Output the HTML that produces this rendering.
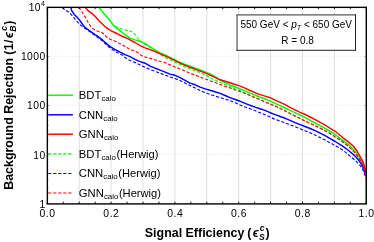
<!DOCTYPE html>
<html><head><meta charset="utf-8"><title>ROC</title>
<style>
html,body{margin:0;padding:0;background:#fff;}
svg{display:block;will-change:transform;font-family:"Liberation Sans",Arial,Helvetica,sans-serif;fill:#000;}
</style></head><body>
<svg width="374" height="242" viewBox="0 0 374 242">
<rect width="374" height="242" fill="#fff"/>

<line x1="79.20" y1="7.4" x2="79.20" y2="203.4" stroke="#aaaaaa" stroke-width="0.8" stroke-dasharray="0.9 1.1"/>
<line x1="111.10" y1="7.4" x2="111.10" y2="203.4" stroke="#aaaaaa" stroke-width="0.8" stroke-dasharray="0.9 1.1"/>
<line x1="143.00" y1="7.4" x2="143.00" y2="203.4" stroke="#aaaaaa" stroke-width="0.8" stroke-dasharray="0.9 1.1"/>
<line x1="174.90" y1="7.4" x2="174.90" y2="203.4" stroke="#aaaaaa" stroke-width="0.8" stroke-dasharray="0.9 1.1"/>
<line x1="206.80" y1="7.4" x2="206.80" y2="203.4" stroke="#aaaaaa" stroke-width="0.8" stroke-dasharray="0.9 1.1"/>
<line x1="238.70" y1="7.4" x2="238.70" y2="203.4" stroke="#aaaaaa" stroke-width="0.8" stroke-dasharray="0.9 1.1"/>
<line x1="270.60" y1="7.4" x2="270.60" y2="203.4" stroke="#aaaaaa" stroke-width="0.8" stroke-dasharray="0.9 1.1"/>
<line x1="302.50" y1="7.4" x2="302.50" y2="203.4" stroke="#aaaaaa" stroke-width="0.8" stroke-dasharray="0.9 1.1"/>
<line x1="334.40" y1="7.4" x2="334.40" y2="203.4" stroke="#aaaaaa" stroke-width="0.8" stroke-dasharray="0.9 1.1"/>
<line x1="47.3" y1="154.50" x2="366.3" y2="154.50" stroke="#e4e4e4" stroke-width="0.7" stroke-dasharray="0.8 0.95"/>
<line x1="47.3" y1="105.35" x2="366.3" y2="105.35" stroke="#e4e4e4" stroke-width="0.7" stroke-dasharray="0.8 0.95"/>
<line x1="47.3" y1="56.40" x2="366.3" y2="56.40" stroke="#e4e4e4" stroke-width="0.7" stroke-dasharray="0.8 0.95"/>
<clipPath id="c"><rect x="47.3" y="7.4" width="319.0" height="196.5"/></clipPath>
<g clip-path="url(#c)" fill="none" stroke-linejoin="round">
<path d="M99.0,7.4 L102.5,11.9 L106.3,16.3 L110.1,20.7 L113.2,25.1 L117.0,28.4 L121.2,31.6 L125.0,34.7 L130.0,38.1 L135.0,39.9 L140.1,41.2 L145.1,43.7 L150.1,46.9 L155.2,50.0 L160.2,52.9 L165.2,55.0 L170.0,57.4 L175.0,59.9 L180.1,62.4 L185.1,64.5 L190.1,66.3 L195.2,68.2 L200.2,70.0 L205.0,71.9 L210.0,74.0 L215.0,76.6 L220.1,80.0 L225.1,82.6 L230.1,84.9 L235.2,87.0 L240.2,88.9 L245.1,90.9 L250.0,93.1 L255.0,95.2 L260.1,97.1 L265.1,99.0 L270.1,100.9 L275.2,103.4 L280.2,105.6 L285.1,108.0 L290.0,110.3 L295.0,112.6 L300.1,115.1 L305.1,117.6 L310.1,120.3 L315.1,123.0 L320.1,125.6 L325.1,128.4 L330.2,131.3 L335.2,134.7 L339.6,138.1 L344.6,141.9 L349.6,145.7 L354.0,150.1 L357.2,153.9 L359.7,158.2 L362.2,162.6 L363.8,166.5 L364.9,170.5 L365.8,176.0 L366.2,180.0 L366.3,185.0 L366.3,203.9" stroke="#00fa00" stroke-width="1.45"/>
<path d="M99.0,7.4 L102.5,11.9 L106.3,16.3 L110.1,20.7 L113.5,25.3 L117.6,27.6 L122.0,29.1 L126.4,30.4 L130.0,31.1 L133.2,32.4 L135.7,35.5 L138.8,39.3 L141.0,41.8 L145.1,44.3 L150.1,47.5 L155.2,50.8 L160.2,54.4 L165.0,57.5 L170.0,59.8 L175.0,62.3 L180.1,64.5 L185.1,67.0 L190.1,68.9 L195.2,70.7 L200.2,72.6 L205.0,75.0 L210.0,77.6 L215.0,80.1 L220.1,82.3 L225.1,84.5 L230.1,86.4 L235.2,88.9 L240.2,90.8 L245.1,93.0 L250.0,95.3 L255.0,97.5 L260.1,99.6 L265.1,101.9 L270.1,103.8 L275.2,106.0 L280.2,108.2 L285.1,110.8 L290.0,113.4 L295.0,115.9 L300.1,118.4 L305.1,120.9 L310.1,123.3 L315.1,125.5 L320.1,128.0 L325.1,130.6 L330.2,133.5 L335.2,136.8 L340.2,140.0 L342.1,141.4 L347.1,145.2 L352.1,149.7 L355.9,153.8 L359.0,158.1 L361.6,162.5 L363.4,166.4 L364.6,170.4 L365.5,175.0" stroke="#00fa00" stroke-width="1.1" stroke-dasharray="3.2 1.8"/>
<path d="M70.8,7.4 L71.7,10.7 L74.2,14.4 L77.4,17.6 L80.5,21.3 L83.0,25.1 L85.3,27.7 L89.3,30.5 L93.3,33.4 L95.2,34.8 L97.7,36.2 L100.1,38.2 L102.8,40.2 L105.1,42.4 L110.1,46.6 L115.2,49.6 L120.2,52.2 L125.1,54.6 L130.0,56.7 L135.0,59.4 L140.1,61.6 L145.1,63.2 L150.1,66.1 L155.2,68.2 L160.2,70.1 L165.2,72.2 L170.0,74.1 L175.0,75.3 L180.1,77.6 L185.1,80.3 L190.1,83.1 L195.2,84.8 L200.2,87.1 L205.2,88.9 L210.0,90.2 L215.0,91.8 L220.1,93.4 L225.1,95.5 L230.1,97.6 L235.2,99.5 L240.2,101.3 L245.2,103.3 L250.0,105.3 L255.0,107.1 L260.1,108.8 L265.1,110.4 L270.1,112.7 L275.2,114.6 L280.2,116.5 L285.2,118.3 L290.0,120.4 L295.0,122.6 L300.1,124.6 L305.0,126.5 L310.1,128.5 L315.1,130.7 L320.1,133.2 L325.1,135.7 L330.2,138.6 L335.2,141.5 L340.2,144.7 L343.0,146.4 L346.3,148.8 L350.4,152.0 L354.6,155.6 L357.9,159.3 L360.4,162.6 L362.0,165.3 L363.3,167.8 L364.3,170.3 L365.1,173.0 L365.7,176.0" stroke="#0000ff" stroke-width="1.45"/>
<path d="M62.3,7.4 L64.8,9.8 L68.6,11.9 L71.7,15.1 L74.9,18.8 L78.0,22.6 L81.1,25.7 L84.3,27.8 L87.4,29.9 L91.2,32.7 L93.7,34.5 L97.6,37.2 L102.6,41.1 L107.6,45.8 L112.6,49.8 L117.7,52.7 L122.7,55.2 L125.0,57.6 L130.0,60.5 L135.0,62.6 L140.1,65.1 L145.1,67.3 L150.1,69.5 L155.2,71.4 L160.2,73.2 L165.2,75.1 L170.0,77.0 L175.0,78.6 L180.1,80.5 L185.1,83.1 L190.1,85.6 L195.2,88.1 L200.2,90.6 L205.2,92.6 L210.0,94.4 L215.0,96.1 L220.1,97.6 L225.1,99.1 L230.1,100.7 L235.2,102.8 L240.2,105.1 L245.2,107.1 L250.0,108.8 L255.0,110.6 L260.1,112.7 L265.1,114.8 L270.1,117.1 L275.2,119.3 L280.2,121.1 L285.2,122.9 L290.0,124.7 L295.0,126.6 L300.1,128.8 L305.0,130.7 L310.1,132.8 L315.1,135.1 L320.1,137.6 L325.1,140.1 L330.2,142.8 L335.2,145.6 L339.2,147.9 L343.0,150.3 L346.3,152.9 L350.4,156.4 L354.6,159.8 L357.7,162.8 L360.0,165.3 L362.1,168.4 L363.7,171.8 L365.0,175.5" stroke="#0000ff" stroke-width="1.1" stroke-dasharray="3.2 1.8"/>
<path d="M85.2,7.4 L88.0,10.7 L92.4,13.8 L95.5,16.8 L98.8,20.4 L102.6,24.2 L106.9,28.2 L111.3,30.8 L115.7,33.0 L119.0,34.6 L122.7,36.5 L127.7,38.7 L130.0,39.9 L135.0,42.5 L140.1,45.6 L145.1,47.9 L150.1,49.6 L155.2,51.6 L160.2,53.8 L165.1,55.8 L170.0,58.1 L175.0,60.7 L180.1,63.2 L185.1,65.3 L190.1,67.3 L195.2,69.1 L200.2,71.1 L205.1,72.9 L210.0,75.1 L215.0,77.3 L220.1,79.8 L225.1,81.3 L230.1,82.8 L235.2,84.5 L240.2,86.1 L245.1,88.2 L250.0,90.5 L255.0,92.7 L260.1,94.6 L265.1,96.1 L270.1,97.7 L275.2,100.2 L280.2,102.4 L285.1,104.7 L290.0,107.3 L295.0,109.8 L300.1,112.3 L305.1,114.5 L310.1,117.0 L315.2,119.7 L320.2,122.3 L325.2,125.1 L330.2,128.3 L335.2,131.3 L338.3,134.0 L340.2,135.3 L343.3,138.1 L348.4,141.9 L353.4,146.3 L357.2,151.3 L359.6,155.5 L361.7,159.3 L363.3,162.6 L364.4,166.0 L365.2,169.3 L365.6,172.6 L365.8,176.0" stroke="#ff0000" stroke-width="1.45"/>
<path d="M78.6,7.4 L81.1,10.0 L83.0,13.8 L85.5,17.6 L87.4,21.3 L89.9,25.1 L92.8,28.8 L96.5,30.8 L100.4,31.9 L103.2,33.4 L105.7,36.2 L110.1,39.3 L115.2,41.2 L120.2,43.7 L125.2,46.5 L130.0,49.4 L135.0,51.1 L137.6,52.5 L142.6,56.3 L147.6,57.7 L152.6,59.0 L157.7,60.7 L162.7,61.9 L165.0,62.6 L170.0,64.8 L175.0,67.0 L180.1,68.9 L185.1,71.1 L190.1,73.2 L195.2,75.1 L200.2,77.0 L205.1,78.9 L210.0,80.7 L215.0,82.6 L220.1,84.5 L225.1,86.4 L230.1,87.9 L235.2,89.9 L240.2,91.6 L245.1,93.6 L250.0,95.6 L255.0,97.7 L260.1,99.8 L265.1,102.1 L270.1,104.0 L275.2,106.1 L280.2,108.4 L285.1,111.0 L290.0,113.6 L295.0,116.1 L300.1,118.6 L305.1,121.1 L310.1,123.4 L315.1,125.7 L320.1,128.2 L325.1,130.7 L330.2,133.6 L335.2,137.0 L340.2,140.1 L342.1,141.5 L347.1,145.3 L352.1,149.8 L355.9,153.9 L359.0,158.2 L361.6,162.6 L363.4,166.5 L364.6,170.5 L365.5,175.0" stroke="#ff0000" stroke-width="1.1" stroke-dasharray="3.2 1.8"/>
</g>
<line x1="48.2" y1="95.20" x2="72.9" y2="95.20" stroke="#00fa00" stroke-width="1.45"/>
<line x1="48.2" y1="114.80" x2="72.9" y2="114.80" stroke="#0000ff" stroke-width="1.45"/>
<line x1="48.2" y1="134.20" x2="72.9" y2="134.20" stroke="#ff0000" stroke-width="1.45"/>
<line x1="48.2" y1="153.90" x2="72.9" y2="153.90" stroke="#00fa00" stroke-width="1.1" stroke-dasharray="3.2 1.8"/>
<line x1="48.2" y1="173.50" x2="72.9" y2="173.50" stroke="#0000ff" stroke-width="1.1" stroke-dasharray="3.2 1.8"/>
<line x1="48.2" y1="193.00" x2="72.9" y2="193.00" stroke="#ff0000" stroke-width="1.1" stroke-dasharray="3.2 1.8"/>
<text x="78.8" y="99.00" font-size="11.3">BDT<tspan font-size="7.9" dy="2.1">calo</tspan><tspan font-size="11.15" dy="-2.1" dx="0.5"></tspan></text>
<text x="78.8" y="118.50" font-size="11.3">CNN<tspan font-size="7.9" dy="2.1">calo</tspan><tspan font-size="11.15" dy="-2.1" dx="0.5"></tspan></text>
<text x="78.8" y="138.00" font-size="11.3">GNN<tspan font-size="7.9" dy="2.1">calo</tspan><tspan font-size="11.15" dy="-2.1" dx="0.5"></tspan></text>
<text x="78.8" y="157.50" font-size="11.3">BDT<tspan font-size="7.9" dy="2.1">calo</tspan><tspan font-size="11.15" dy="-2.1" dx="0.5">(Herwig)</tspan></text>
<text x="78.8" y="177.00" font-size="11.3">CNN<tspan font-size="7.9" dy="2.1">calo</tspan><tspan font-size="11.15" dy="-2.1" dx="0.5">(Herwig)</tspan></text>
<text x="78.8" y="196.50" font-size="11.3">GNN<tspan font-size="7.9" dy="2.1">calo</tspan><tspan font-size="11.15" dy="-2.1" dx="0.5">(Herwig)</tspan></text>
<rect x="47.35" y="7.35" width="318.95" height="196.55" fill="none" stroke="#000" stroke-width="1.4"/>
<line x1="47.30" y1="203.9" x2="47.30" y2="201.7" stroke="#000" stroke-width="0.9"/>
<line x1="47.30" y1="7.35" x2="47.30" y2="9.1" stroke="#000" stroke-width="0.9"/>
<line x1="63.25" y1="203.9" x2="63.25" y2="201.7" stroke="#000" stroke-width="0.9"/>
<line x1="63.25" y1="7.35" x2="63.25" y2="9.1" stroke="#000" stroke-width="0.9"/>
<line x1="79.20" y1="203.9" x2="79.20" y2="201.7" stroke="#000" stroke-width="0.9"/>
<line x1="79.20" y1="7.35" x2="79.20" y2="9.1" stroke="#000" stroke-width="0.9"/>
<line x1="95.15" y1="203.9" x2="95.15" y2="201.7" stroke="#000" stroke-width="0.9"/>
<line x1="95.15" y1="7.35" x2="95.15" y2="9.1" stroke="#000" stroke-width="0.9"/>
<line x1="111.10" y1="203.9" x2="111.10" y2="201.7" stroke="#000" stroke-width="0.9"/>
<line x1="111.10" y1="7.35" x2="111.10" y2="9.1" stroke="#000" stroke-width="0.9"/>
<line x1="127.05" y1="203.9" x2="127.05" y2="201.7" stroke="#000" stroke-width="0.9"/>
<line x1="127.05" y1="7.35" x2="127.05" y2="9.1" stroke="#000" stroke-width="0.9"/>
<line x1="143.00" y1="203.9" x2="143.00" y2="201.7" stroke="#000" stroke-width="0.9"/>
<line x1="143.00" y1="7.35" x2="143.00" y2="9.1" stroke="#000" stroke-width="0.9"/>
<line x1="158.95" y1="203.9" x2="158.95" y2="201.7" stroke="#000" stroke-width="0.9"/>
<line x1="158.95" y1="7.35" x2="158.95" y2="9.1" stroke="#000" stroke-width="0.9"/>
<line x1="174.90" y1="203.9" x2="174.90" y2="201.7" stroke="#000" stroke-width="0.9"/>
<line x1="174.90" y1="7.35" x2="174.90" y2="9.1" stroke="#000" stroke-width="0.9"/>
<line x1="190.85" y1="203.9" x2="190.85" y2="201.7" stroke="#000" stroke-width="0.9"/>
<line x1="190.85" y1="7.35" x2="190.85" y2="9.1" stroke="#000" stroke-width="0.9"/>
<line x1="206.80" y1="203.9" x2="206.80" y2="201.7" stroke="#000" stroke-width="0.9"/>
<line x1="206.80" y1="7.35" x2="206.80" y2="9.1" stroke="#000" stroke-width="0.9"/>
<line x1="222.75" y1="203.9" x2="222.75" y2="201.7" stroke="#000" stroke-width="0.9"/>
<line x1="222.75" y1="7.35" x2="222.75" y2="9.1" stroke="#000" stroke-width="0.9"/>
<line x1="238.70" y1="203.9" x2="238.70" y2="201.7" stroke="#000" stroke-width="0.9"/>
<line x1="238.70" y1="7.35" x2="238.70" y2="9.1" stroke="#000" stroke-width="0.9"/>
<line x1="254.65" y1="203.9" x2="254.65" y2="201.7" stroke="#000" stroke-width="0.9"/>
<line x1="254.65" y1="7.35" x2="254.65" y2="9.1" stroke="#000" stroke-width="0.9"/>
<line x1="270.60" y1="203.9" x2="270.60" y2="201.7" stroke="#000" stroke-width="0.9"/>
<line x1="270.60" y1="7.35" x2="270.60" y2="9.1" stroke="#000" stroke-width="0.9"/>
<line x1="286.55" y1="203.9" x2="286.55" y2="201.7" stroke="#000" stroke-width="0.9"/>
<line x1="286.55" y1="7.35" x2="286.55" y2="9.1" stroke="#000" stroke-width="0.9"/>
<line x1="302.50" y1="203.9" x2="302.50" y2="201.7" stroke="#000" stroke-width="0.9"/>
<line x1="302.50" y1="7.35" x2="302.50" y2="9.1" stroke="#000" stroke-width="0.9"/>
<line x1="318.45" y1="203.9" x2="318.45" y2="201.7" stroke="#000" stroke-width="0.9"/>
<line x1="318.45" y1="7.35" x2="318.45" y2="9.1" stroke="#000" stroke-width="0.9"/>
<line x1="334.40" y1="203.9" x2="334.40" y2="201.7" stroke="#000" stroke-width="0.9"/>
<line x1="334.40" y1="7.35" x2="334.40" y2="9.1" stroke="#000" stroke-width="0.9"/>
<line x1="350.35" y1="203.9" x2="350.35" y2="201.7" stroke="#000" stroke-width="0.9"/>
<line x1="350.35" y1="7.35" x2="350.35" y2="9.1" stroke="#000" stroke-width="0.9"/>
<line x1="366.30" y1="203.9" x2="366.30" y2="201.7" stroke="#000" stroke-width="0.9"/>
<line x1="366.30" y1="7.35" x2="366.30" y2="9.1" stroke="#000" stroke-width="0.9"/>
<line x1="48.0" y1="188.83" x2="48.8" y2="188.83" stroke="#999" stroke-width="0.5"/>
<line x1="365.6" y1="188.83" x2="364.8" y2="188.83" stroke="#999" stroke-width="0.5"/>
<line x1="48.0" y1="180.20" x2="48.8" y2="180.20" stroke="#999" stroke-width="0.5"/>
<line x1="365.6" y1="180.20" x2="364.8" y2="180.20" stroke="#999" stroke-width="0.5"/>
<line x1="48.0" y1="174.07" x2="48.8" y2="174.07" stroke="#999" stroke-width="0.5"/>
<line x1="365.6" y1="174.07" x2="364.8" y2="174.07" stroke="#999" stroke-width="0.5"/>
<line x1="48.0" y1="169.32" x2="48.8" y2="169.32" stroke="#999" stroke-width="0.5"/>
<line x1="365.6" y1="169.32" x2="364.8" y2="169.32" stroke="#999" stroke-width="0.5"/>
<line x1="48.0" y1="165.43" x2="48.8" y2="165.43" stroke="#999" stroke-width="0.5"/>
<line x1="365.6" y1="165.43" x2="364.8" y2="165.43" stroke="#999" stroke-width="0.5"/>
<line x1="48.0" y1="162.15" x2="48.8" y2="162.15" stroke="#999" stroke-width="0.5"/>
<line x1="365.6" y1="162.15" x2="364.8" y2="162.15" stroke="#999" stroke-width="0.5"/>
<line x1="48.0" y1="159.30" x2="48.8" y2="159.30" stroke="#999" stroke-width="0.5"/>
<line x1="365.6" y1="159.30" x2="364.8" y2="159.30" stroke="#999" stroke-width="0.5"/>
<line x1="48.0" y1="156.79" x2="48.8" y2="156.79" stroke="#999" stroke-width="0.5"/>
<line x1="365.6" y1="156.79" x2="364.8" y2="156.79" stroke="#999" stroke-width="0.5"/>
<line x1="48.0" y1="154.55" x2="49.3" y2="154.55" stroke="#555" stroke-width="0.5"/>
<line x1="365.6" y1="154.55" x2="364.3" y2="154.55" stroke="#555" stroke-width="0.5"/>
<line x1="48.0" y1="139.78" x2="48.8" y2="139.78" stroke="#999" stroke-width="0.5"/>
<line x1="365.6" y1="139.78" x2="364.8" y2="139.78" stroke="#999" stroke-width="0.5"/>
<line x1="48.0" y1="131.15" x2="48.8" y2="131.15" stroke="#999" stroke-width="0.5"/>
<line x1="365.6" y1="131.15" x2="364.8" y2="131.15" stroke="#999" stroke-width="0.5"/>
<line x1="48.0" y1="125.02" x2="48.8" y2="125.02" stroke="#999" stroke-width="0.5"/>
<line x1="365.6" y1="125.02" x2="364.8" y2="125.02" stroke="#999" stroke-width="0.5"/>
<line x1="48.0" y1="120.27" x2="48.8" y2="120.27" stroke="#999" stroke-width="0.5"/>
<line x1="365.6" y1="120.27" x2="364.8" y2="120.27" stroke="#999" stroke-width="0.5"/>
<line x1="48.0" y1="116.38" x2="48.8" y2="116.38" stroke="#999" stroke-width="0.5"/>
<line x1="365.6" y1="116.38" x2="364.8" y2="116.38" stroke="#999" stroke-width="0.5"/>
<line x1="48.0" y1="113.10" x2="48.8" y2="113.10" stroke="#999" stroke-width="0.5"/>
<line x1="365.6" y1="113.10" x2="364.8" y2="113.10" stroke="#999" stroke-width="0.5"/>
<line x1="48.0" y1="110.25" x2="48.8" y2="110.25" stroke="#999" stroke-width="0.5"/>
<line x1="365.6" y1="110.25" x2="364.8" y2="110.25" stroke="#999" stroke-width="0.5"/>
<line x1="48.0" y1="107.74" x2="48.8" y2="107.74" stroke="#999" stroke-width="0.5"/>
<line x1="365.6" y1="107.74" x2="364.8" y2="107.74" stroke="#999" stroke-width="0.5"/>
<line x1="48.0" y1="105.50" x2="49.3" y2="105.50" stroke="#555" stroke-width="0.5"/>
<line x1="365.6" y1="105.50" x2="364.3" y2="105.50" stroke="#555" stroke-width="0.5"/>
<line x1="48.0" y1="90.73" x2="48.8" y2="90.73" stroke="#999" stroke-width="0.5"/>
<line x1="365.6" y1="90.73" x2="364.8" y2="90.73" stroke="#999" stroke-width="0.5"/>
<line x1="48.0" y1="82.10" x2="48.8" y2="82.10" stroke="#999" stroke-width="0.5"/>
<line x1="365.6" y1="82.10" x2="364.8" y2="82.10" stroke="#999" stroke-width="0.5"/>
<line x1="48.0" y1="75.97" x2="48.8" y2="75.97" stroke="#999" stroke-width="0.5"/>
<line x1="365.6" y1="75.97" x2="364.8" y2="75.97" stroke="#999" stroke-width="0.5"/>
<line x1="48.0" y1="71.22" x2="48.8" y2="71.22" stroke="#999" stroke-width="0.5"/>
<line x1="365.6" y1="71.22" x2="364.8" y2="71.22" stroke="#999" stroke-width="0.5"/>
<line x1="48.0" y1="67.33" x2="48.8" y2="67.33" stroke="#999" stroke-width="0.5"/>
<line x1="365.6" y1="67.33" x2="364.8" y2="67.33" stroke="#999" stroke-width="0.5"/>
<line x1="48.0" y1="64.05" x2="48.8" y2="64.05" stroke="#999" stroke-width="0.5"/>
<line x1="365.6" y1="64.05" x2="364.8" y2="64.05" stroke="#999" stroke-width="0.5"/>
<line x1="48.0" y1="61.20" x2="48.8" y2="61.20" stroke="#999" stroke-width="0.5"/>
<line x1="365.6" y1="61.20" x2="364.8" y2="61.20" stroke="#999" stroke-width="0.5"/>
<line x1="48.0" y1="58.69" x2="48.8" y2="58.69" stroke="#999" stroke-width="0.5"/>
<line x1="365.6" y1="58.69" x2="364.8" y2="58.69" stroke="#999" stroke-width="0.5"/>
<line x1="48.0" y1="56.45" x2="49.3" y2="56.45" stroke="#555" stroke-width="0.5"/>
<line x1="365.6" y1="56.45" x2="364.3" y2="56.45" stroke="#555" stroke-width="0.5"/>
<line x1="48.0" y1="41.68" x2="48.8" y2="41.68" stroke="#999" stroke-width="0.5"/>
<line x1="365.6" y1="41.68" x2="364.8" y2="41.68" stroke="#999" stroke-width="0.5"/>
<line x1="48.0" y1="33.05" x2="48.8" y2="33.05" stroke="#999" stroke-width="0.5"/>
<line x1="365.6" y1="33.05" x2="364.8" y2="33.05" stroke="#999" stroke-width="0.5"/>
<line x1="48.0" y1="26.92" x2="48.8" y2="26.92" stroke="#999" stroke-width="0.5"/>
<line x1="365.6" y1="26.92" x2="364.8" y2="26.92" stroke="#999" stroke-width="0.5"/>
<line x1="48.0" y1="22.17" x2="48.8" y2="22.17" stroke="#999" stroke-width="0.5"/>
<line x1="365.6" y1="22.17" x2="364.8" y2="22.17" stroke="#999" stroke-width="0.5"/>
<line x1="48.0" y1="18.28" x2="48.8" y2="18.28" stroke="#999" stroke-width="0.5"/>
<line x1="365.6" y1="18.28" x2="364.8" y2="18.28" stroke="#999" stroke-width="0.5"/>
<line x1="48.0" y1="15.00" x2="48.8" y2="15.00" stroke="#999" stroke-width="0.5"/>
<line x1="365.6" y1="15.00" x2="364.8" y2="15.00" stroke="#999" stroke-width="0.5"/>
<line x1="48.0" y1="12.15" x2="48.8" y2="12.15" stroke="#999" stroke-width="0.5"/>
<line x1="365.6" y1="12.15" x2="364.8" y2="12.15" stroke="#999" stroke-width="0.5"/>
<line x1="48.0" y1="9.64" x2="48.8" y2="9.64" stroke="#999" stroke-width="0.5"/>
<line x1="365.6" y1="9.64" x2="364.8" y2="9.64" stroke="#999" stroke-width="0.5"/>
<text x="47.60" y="217.2" font-size="10.4" letter-spacing="0.55" text-anchor="middle">0.0</text>
<text x="111.40" y="217.2" font-size="10.4" letter-spacing="0.55" text-anchor="middle">0.2</text>
<text x="175.20" y="217.2" font-size="10.4" letter-spacing="0.55" text-anchor="middle">0.4</text>
<text x="239.00" y="217.2" font-size="10.4" letter-spacing="0.55" text-anchor="middle">0.6</text>
<text x="302.80" y="217.2" font-size="10.4" letter-spacing="0.55" text-anchor="middle">0.8</text>
<text x="366.60" y="217.2" font-size="10.4" letter-spacing="0.55" text-anchor="middle">1.0</text>
<text x="45.6" y="207.50" font-size="10.3" letter-spacing="0.45" text-anchor="end">1</text>
<text x="45.6" y="158.50" font-size="10.3" letter-spacing="0.45" text-anchor="end">10</text>
<text x="45.6" y="109.40" font-size="10.3" letter-spacing="0.45" text-anchor="end">100</text>
<text x="45.6" y="60.30" font-size="10.3" letter-spacing="0.45" text-anchor="end">1000</text>
<text x="45.3" y="11.1" font-size="10.3" letter-spacing="0.4" text-anchor="end">10<tspan font-size="7" dy="-5.1">4</tspan></text>
<rect x="237.05" y="14.9" width="118.45" height="35.4" fill="#fff"/>
<path d="M236.5,14.9 H356" stroke="#5a5a5a" stroke-width="1.15" fill="none"/>
<path d="M237.05,14.4 V50.8" stroke="#5a5a5a" stroke-width="1.25" fill="none"/>
<path d="M236.5,50.3 H356" stroke="#222" stroke-width="1.0" fill="none"/>
<path d="M355.5,14.4 V50.8" stroke="#222" stroke-width="1.0" fill="none"/>
<text x="240.4" y="28.3" font-size="10">550 GeV &lt; <tspan font-style="italic">p</tspan><tspan font-style="italic" font-size="7" dy="1.8">T</tspan><tspan dy="-1.8"> &lt; 650 GeV</tspan></text>
<text x="297.6" y="43.8" font-size="10" text-anchor="middle">R = 0.8</text>
<g transform="translate(144.8,237)"><text x="0" y="0" font-size="12.45" font-weight="bold">Signal Efficiency</text><text x="102.5" y="0" font-size="12.45" font-weight="bold">(</text><text x="108.0" y="0" font-size="12.45" font-weight="bold" font-style="italic">ϵ</text><text x="114.1" y="3.3" font-size="8.6" font-weight="bold" font-style="italic">S</text><text x="114.9" y="-6.3" font-size="8.6" font-weight="bold" font-style="italic">c</text><text x="120.7" y="0" font-size="12.45" font-weight="bold">)</text></g>
<g transform="translate(12.9,189.8) rotate(-90)"><text x="0" y="0" font-size="12.45" font-weight="bold">Background Rejection</text><text x="135.1" y="0" font-size="12.45" font-weight="bold">(</text><text x="151.8" y="0" font-size="12.45" font-weight="bold" font-style="italic">ϵ</text><text x="158.1" y="3.3" font-size="8.6" font-weight="bold" font-style="italic">B</text><text x="159.1" y="-6.3" font-size="8.6" font-weight="bold" font-style="italic">c</text><text x="165.1" y="0" font-size="12.45" font-weight="bold">)</text><text x="139.5" y="0" font-size="12.45" font-weight="bold" letter-spacing="0.4">1/</text></g>
</svg></body></html>
